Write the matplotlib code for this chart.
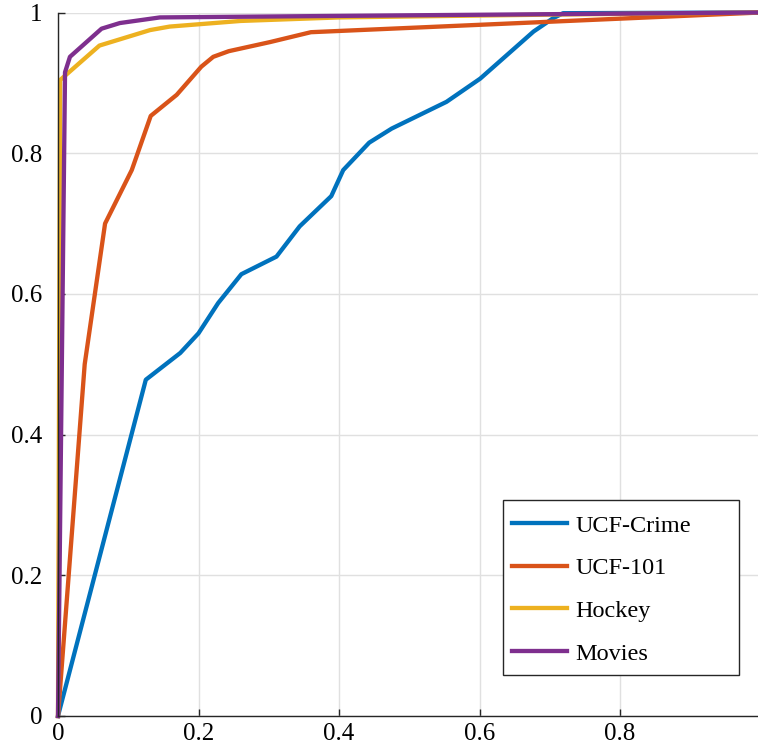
import matplotlib
matplotlib.use("Agg")
import matplotlib.pyplot as plt
from matplotlib.patches import Rectangle

plt.rcParams['font.family'] = ['Liberation Serif', 'DejaVu Serif']

series_names = ["UCF-Crime", "UCF-101", "Hockey", "Movies"]

crime_x = [0, 0.125, 0.174, 0.200, 0.228, 0.261, 0.311, 0.344, 0.389, 0.406, 0.443, 0.475, 0.553, 0.601, 0.677, 0.705, 0.719, 1.0]
crime_y = [0, 0.478, 0.516, 0.544, 0.587, 0.628, 0.653, 0.696, 0.739, 0.776, 0.815, 0.835, 0.873, 0.906, 0.973, 0.992, 0.999, 1.0]

ucf101_x = [0, 0.038, 0.067, 0.105, 0.132, 0.169, 0.204, 0.221, 0.243, 0.302, 0.360, 1.0]
ucf101_y = [0, 0.500, 0.700, 0.776, 0.853, 0.883, 0.923, 0.937, 0.945, 0.958, 0.972, 1.0]

hockey_x = [0, 0.003, 0.059, 0.131, 0.159, 0.260, 0.400, 0.700, 1.0]
hockey_y = [0, 0.904, 0.953, 0.975, 0.980, 0.988, 0.993, 0.997, 1.0]

movies_x = [0, 0.010, 0.017, 0.062, 0.088, 0.145, 0.500, 1.0]
movies_y = [0, 0.915, 0.937, 0.977, 0.985, 0.993, 0.996, 1.0]

x_ticks = [0, 0.2, 0.4, 0.6, 0.8]
x_tick_labels = ["0", "0.2", "0.4", "0.6", "0.8"]
y_ticks = [0, 0.2, 0.4, 0.6, 0.8, 1.0]
y_tick_labels = ["0", "0.2", "0.4", "0.6", "0.8", "1"]

colors = ["#0072BD", "#D95319", "#EDB120", "#7E2F8E"]

W, H = 758, 746
fig = plt.figure(figsize=(W / 100, H / 100), dpi=100)
left_px, right_px, top_px, bottom_px = 58, 760.5, 12.5, 716
ax = fig.add_axes([left_px / W, (H - bottom_px) / H, (right_px - left_px) / W, (bottom_px - top_px) / H])

for xs, ys, name, c in zip([crime_x, ucf101_x, hockey_x, movies_x],
                           [crime_y, ucf101_y, hockey_y, movies_y],
                           series_names, colors):
    ax.plot(xs, ys, color=c, lw=3.1, label=name, clip_on=False)

ax.set_xlim(0, 1)
ax.set_ylim(0, 1)
ax.set_xticks(x_ticks)
ax.set_xticklabels(x_tick_labels)
ax.set_yticks(y_ticks)
ax.set_yticklabels(y_tick_labels)
ax.grid(True, color="#E0E0E0", lw=1.0)
ax.set_axisbelow(True)
for s in ["top", "right"]:
    ax.spines[s].set_visible(False)
for s in ["left", "bottom"]:
    ax.spines[s].set_color("#262626")
    ax.spines[s].set_linewidth(1.0)
ax.tick_params(direction="in", length=5, width=1.0, color="#262626", labelsize=18, labelcolor="black")
ax.tick_params(axis="x", pad=5)
ax.tick_params(axis="y", pad=11)

# legend frame (MATLAB-style box)
ax.add_patch(Rectangle((502.7 / W, 1 - 675 / H), (739.3 - 502.7) / W, (675 - 500) / H,
                       transform=fig.transFigure, facecolor="white", edgecolor="#262626",
                       lw=1.0, zorder=4, clip_on=False))

leg = ax.legend(loc="upper left", bbox_to_anchor=(511.5 / W, 1 - 514.5 / H), bbox_transform=fig.transFigure,
                fontsize=17.5, frameon=False, handlelength=2.3, handletextpad=0.33,
                labelspacing=0.85, borderpad=0, borderaxespad=0)
leg.set_zorder(5)

fig.savefig("out.png", dpi=100)
